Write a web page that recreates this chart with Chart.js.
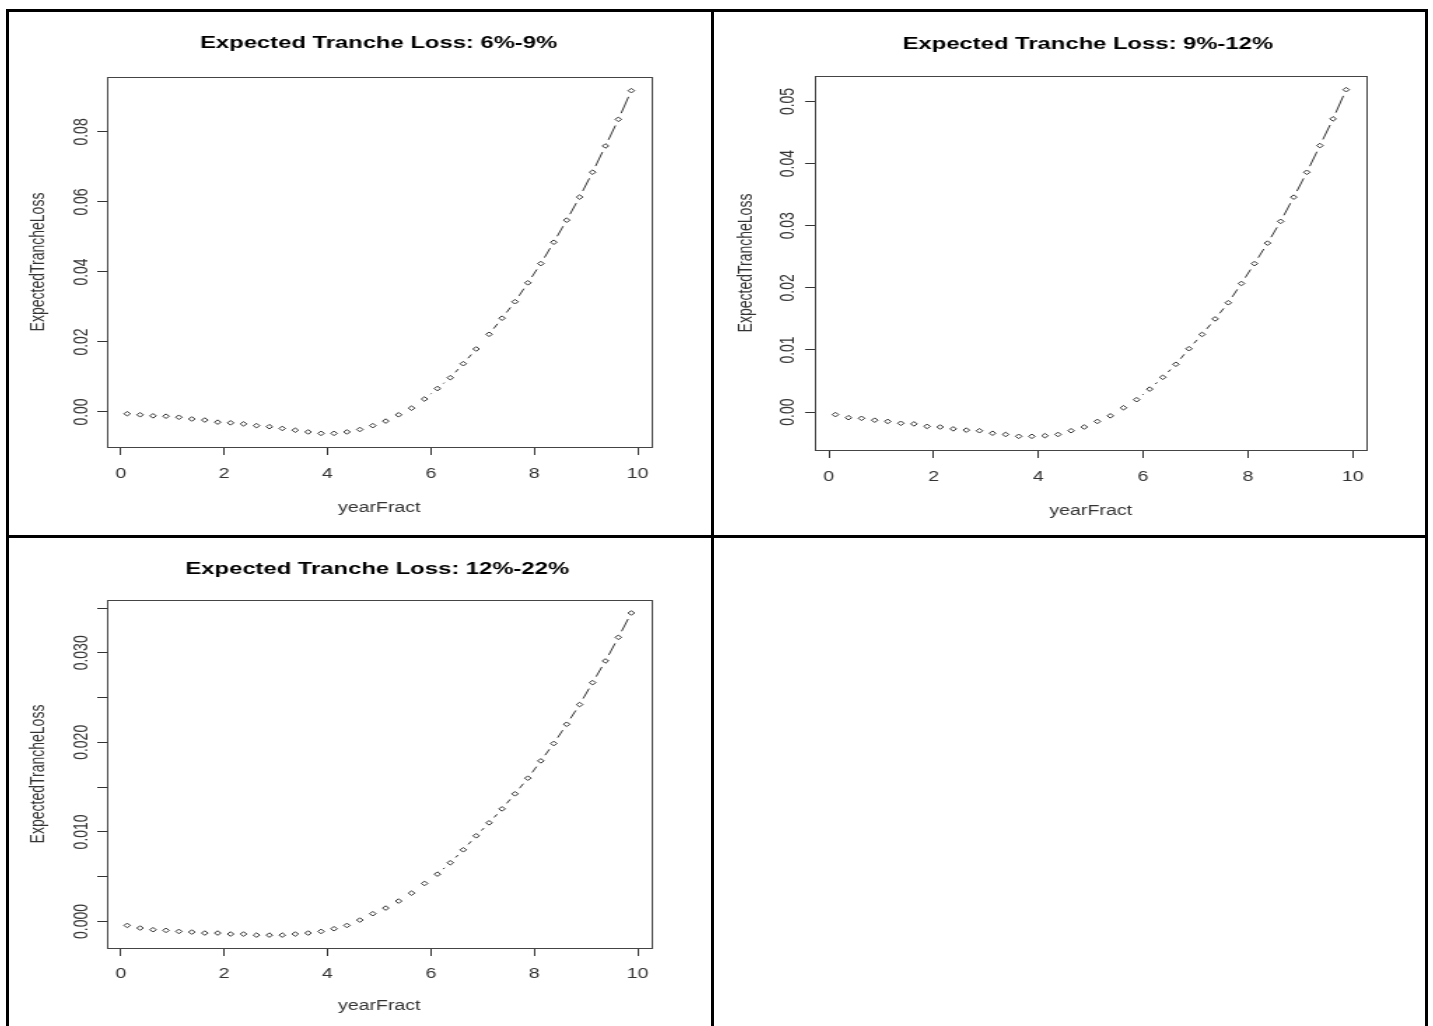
<!DOCTYPE html>
<html>
<head>
<meta charset="utf-8">
<title>Expected Tranche Loss</title>
<script src="https://cdn.jsdelivr.net/npm/chart.js@4.4.1/dist/chart.umd.min.js"></script>
<style>
  html, body { margin: 0; padding: 0; background: #fff; }
  body { width: 1433px; height: 1026px; position: relative; overflow: hidden; }
  .panel { position: absolute; transform-origin: 0 0; }
  .panel canvas { display: block; }
  .rule { position: absolute; background: #000; }
</style>
</head>
<body>

<div class="panel" id="p1"><canvas></canvas></div>
<div class="panel" id="p2"><canvas></canvas></div>
<div class="panel" id="p3"><canvas></canvas></div>

<!-- table lines round the three plots -->
<div class="rule" style="left:6px;top:9px;width:3px;height:1017px"></div>
<div class="rule" style="left:6px;top:9px;width:1422px;height:3px"></div>
<div class="rule" style="left:711px;top:9px;width:3px;height:1017px"></div>
<div class="rule" style="left:6px;top:535px;width:1422px;height:3px"></div>
<div class="rule" style="left:1425px;top:9px;width:3px;height:1017px"></div>

<script>
/* DATA */
const yearFract = [0.125, 0.375, 0.625, 0.875, 1.125, 1.375, 1.625, 1.875, 2.125, 2.375,
  2.625, 2.875, 3.125, 3.375, 3.625, 3.875, 4.125, 4.375, 4.625, 4.875,
  5.125, 5.375, 5.625, 5.875, 6.125, 6.375, 6.625, 6.875, 7.125, 7.375,
  7.625, 7.875, 8.125, 8.375, 8.625, 8.875, 9.125, 9.375, 9.625, 9.875];

const loss6to9 = [-0.0005, -0.0008, -0.0011, -0.0012, -0.0015, -0.0020, -0.0023, -0.0029, -0.0031, -0.0034,
  -0.0039, -0.0042, -0.0047, -0.0052, -0.0057, -0.0061, -0.0061, -0.0057, -0.0050, -0.0039,
  -0.0026, -0.0008, 0.0011, 0.0037, 0.0067, 0.0098, 0.0138, 0.0180, 0.0222, 0.0268,
  0.0315, 0.0369, 0.0424, 0.0485, 0.0548, 0.0614, 0.0685, 0.0760, 0.0836, 0.0918];

const loss9to12 = [-0.0004, -0.0009, -0.0010, -0.0013, -0.0015, -0.0018, -0.0019, -0.0023, -0.0024, -0.0027,
  -0.0029, -0.0030, -0.0034, -0.0036, -0.0039, -0.0039, -0.0038, -0.0036, -0.0030, -0.0024,
  -0.0015, -0.0006, 0.0007, 0.0020, 0.0037, 0.0056, 0.0077, 0.0102, 0.0125, 0.0150,
  0.0176, 0.0207, 0.0239, 0.0272, 0.0307, 0.0346, 0.0386, 0.0429, 0.0472, 0.0519];

const loss12to22 = [-0.00045, -0.00074, -0.00093, -0.00100, -0.00112, -0.00119, -0.00130, -0.00130, -0.00141, -0.00141,
  -0.00153, -0.00153, -0.00153, -0.00141, -0.00130, -0.00112, -0.00082, -0.00045, 0.00015, 0.00086,
  0.00149, 0.00227, 0.00316, 0.00424, 0.00528, 0.00655, 0.00800, 0.00956, 0.01101, 0.01257,
  0.01425, 0.01600, 0.01793, 0.01987, 0.02202, 0.02422, 0.02667, 0.02909, 0.03173, 0.03445];

const xTicks = [0, 2, 4, 6, 8, 10];
const yTicks6to9 = [0, 0.02, 0.04, 0.06, 0.08];
const yLabels6to9 = ['0.00', '0.02', '0.04', '0.06', '0.08'];
const yTicks9to12 = [0, 0.01, 0.02, 0.03, 0.04, 0.05];
const yLabels9to12 = ['0.00', '0.01', '0.02', '0.03', '0.04', '0.05'];
const yTicks12to22 = [0, 0.005, 0.01, 0.015, 0.02, 0.025, 0.03, 0.035];
const yLabels12to22 = ['0.000', '', '0.010', '', '0.020', '', '0.030', ''];

const titles = ['Expected Tranche Loss: 6%-9%', 'Expected Tranche Loss: 9%-12%', 'Expected Tranche Loss: 12%-22%'];
const xTitle = 'yearFract';
const yTitle = 'ExpectedTrancheLoss';

/* LOOK */
const STRETCH = 1.4;          // the plots in the picture are pulled out sideways
const FONT = '"Liberation Sans", Arial, sans-serif';
const INK = '#333';
const BOX = '#444';
const GAP = 6.5;              // empty room left round each point (type "b" look)
const DASH_ON = 18;
const DASH_OFF = 6;

/* dashed joins that stop short of the points, nothing when points are close */
function gapDash(ctx) {
  const a = ctx.p0;
  const b = ctx.p1;
  const len = Math.hypot(b.x - a.x, b.y - a.y) - 2 * GAP;
  if (len <= 0.5) {
    return [0, 10000];
  }
  const pat = [0, GAP];
  let left = len;
  while (left > 0) {
    const on = Math.min(DASH_ON, left);
    pat.push(on);
    left -= on;
    if (left <= 0) break;
    const off = Math.min(DASH_OFF, left);
    pat.push(off);
    left -= off;
  }
  if (pat.length % 2) pat.push(10000);
  else pat[pat.length - 1] += 10000;
  return pat;
}

/* frame round the plot area */
const plotBox = {
  id: 'plotBox',
  afterDraw(chart) {
    const {ctx, chartArea} = chart;
    const l = Math.round(chartArea.left) + 0.5;
    const t = Math.round(chartArea.top) + 0.5;
    const r = Math.round(chartArea.right) + 0.5;
    const b = Math.round(chartArea.bottom) + 0.5;
    ctx.save();
    ctx.strokeStyle = BOX;
    ctx.lineWidth = 1;
    ctx.strokeRect(l, t, r - l, b - t);
    ctx.restore();
  },
};

/* bold heading, placed where the picture has it */
const panelTitle = {
  id: 'panelTitle',
  afterDraw(chart, args, opts) {
    const ctx = chart.ctx;
    ctx.save();
    ctx.font = 'bold 17px ' + FONT;
    ctx.fillStyle = '#000';
    ctx.textAlign = 'center';
    ctx.textBaseline = 'middle';
    ctx.fillText(opts.text, opts.x, opts.y);
    ctx.restore();
  },
};

const panels = [
  {id: 'p1', left: 9, top: 12, width: 501, height: 523,
    area: {left: 70, top: 65, right: 458.9, bottom: 435},
    xRange: [-0.265, 10.265], yRange: [-0.0100, 0.0957],
    values: loss6to9, yTicks: yTicks6to9, yLabels: yLabels6to9, title: titles[0],
    titleAt: [264, 31], yPad: -2.9, yTitlePad: 12.3, xPad: 10.6, xTitlePad: 18.6},
  {id: 'p2', left: 714, top: 12, width: 508, height: 523,
    area: {left: 72.1, top: 64, right: 466.1, bottom: 438},
    xRange: [-0.265, 10.265], yRange: [-0.0061, 0.0541],
    values: loss9to12, yTicks: yTicks9to12, yLabels: yLabels9to12, title: titles[1],
    titleAt: [267, 32], yPad: -1.5, yTitlePad: 14.5, xPad: 10.6, xTitlePad: 15.6},
  {id: 'p3', left: 9, top: 538, width: 501, height: 488,
    area: {left: 70, top: 62, right: 458.9, bottom: 410},
    xRange: [-0.265, 10.265], yRange: [-0.00297, 0.0359],
    values: loss12to22, yTicks: yTicks12to22, yLabels: yLabels12to22, title: titles[2],
    titleAt: [263, 31], yPad: -6.8, yTitlePad: 12.3, xPad: 9.6, xTitlePad: 11.6},
];

function makePanel(cfg) {
  const wrap = document.getElementById(cfg.id);
  wrap.style.left = cfg.left + 'px';
  wrap.style.top = cfg.top + 'px';
  wrap.style.transform = 'scaleX(' + STRETCH + ')';
  const canvas = wrap.querySelector('canvas');
  canvas.width = cfg.width;
  canvas.height = cfg.height;

  const points = yearFract.map(function(x, i) {
    return {x: x, y: cfg.values[i]};
  });

  return new Chart(canvas, {
    type: 'line',
    data: {
      datasets: [{
        data: points,
        borderColor: INK,
        borderWidth: 1,
        fill: false,
        tension: 0,
        pointStyle: 'rectRot',
        pointRadius: 2.3,
        pointBorderWidth: 1,
        pointBorderColor: INK,
        pointBackgroundColor: '#fff',
        segment: {borderDash: gapDash},
      }],
    },
    options: {
      responsive: false,
      animation: false,
      events: [],
      layout: {
        padding: {left: 0, top: cfg.area.top, right: cfg.width - cfg.area.right, bottom: 0},
      },
      plugins: {
        legend: {display: false},
        tooltip: {enabled: false},
        title: {display: false},
        panelTitle: {text: cfg.title, x: cfg.titleAt[0], y: cfg.titleAt[1]},
      },
      scales: {
        x: {
          type: 'linear',
          min: cfg.xRange[0],
          max: cfg.xRange[1],
          afterFit: function(scale) { scale.height = cfg.height - cfg.area.bottom; },
          afterBuildTicks: function(scale) {
            scale.ticks = xTicks.map(function(v) { return {value: v}; });
          },
          grid: {drawOnChartArea: false, tickLength: 8, color: INK, lineWidth: 1},
          border: {display: false},
          ticks: {
            autoSkip: false, maxRotation: 0, padding: cfg.xPad, color: INK,
            font: {family: FONT, size: 14},
            callback: function(v) { return String(v); },
          },
          title: {
            display: true, text: xTitle, color: INK,
            font: {family: FONT, size: 14},
            padding: {top: 0, bottom: cfg.xTitlePad},
          },
        },
        y: {
          type: 'linear',
          min: cfg.yRange[0],
          max: cfg.yRange[1],
          afterFit: function(scale) { scale.width = cfg.area.left; },
          afterBuildTicks: function(scale) {
            scale.ticks = cfg.yTicks.map(function(v) { return {value: v}; });
          },
          grid: {drawOnChartArea: false, tickLength: 7, color: INK, lineWidth: 1},
          border: {display: false},
          ticks: {
            autoSkip: false, minRotation: 90, maxRotation: 90, crossAlign: 'center',
            padding: cfg.yPad, color: INK,
            font: {family: FONT, size: 14},
            callback: function(v, i) { return cfg.yLabels[i]; },
          },
          title: {
            display: true, text: yTitle, color: INK,
            font: {family: FONT, size: 14},
            padding: {top: cfg.yTitlePad, bottom: 0},
          },
        },
      },
    },
    plugins: [plotBox, panelTitle],
  });
}

panels.forEach(makePanel);
</script>
</body>
</html>
